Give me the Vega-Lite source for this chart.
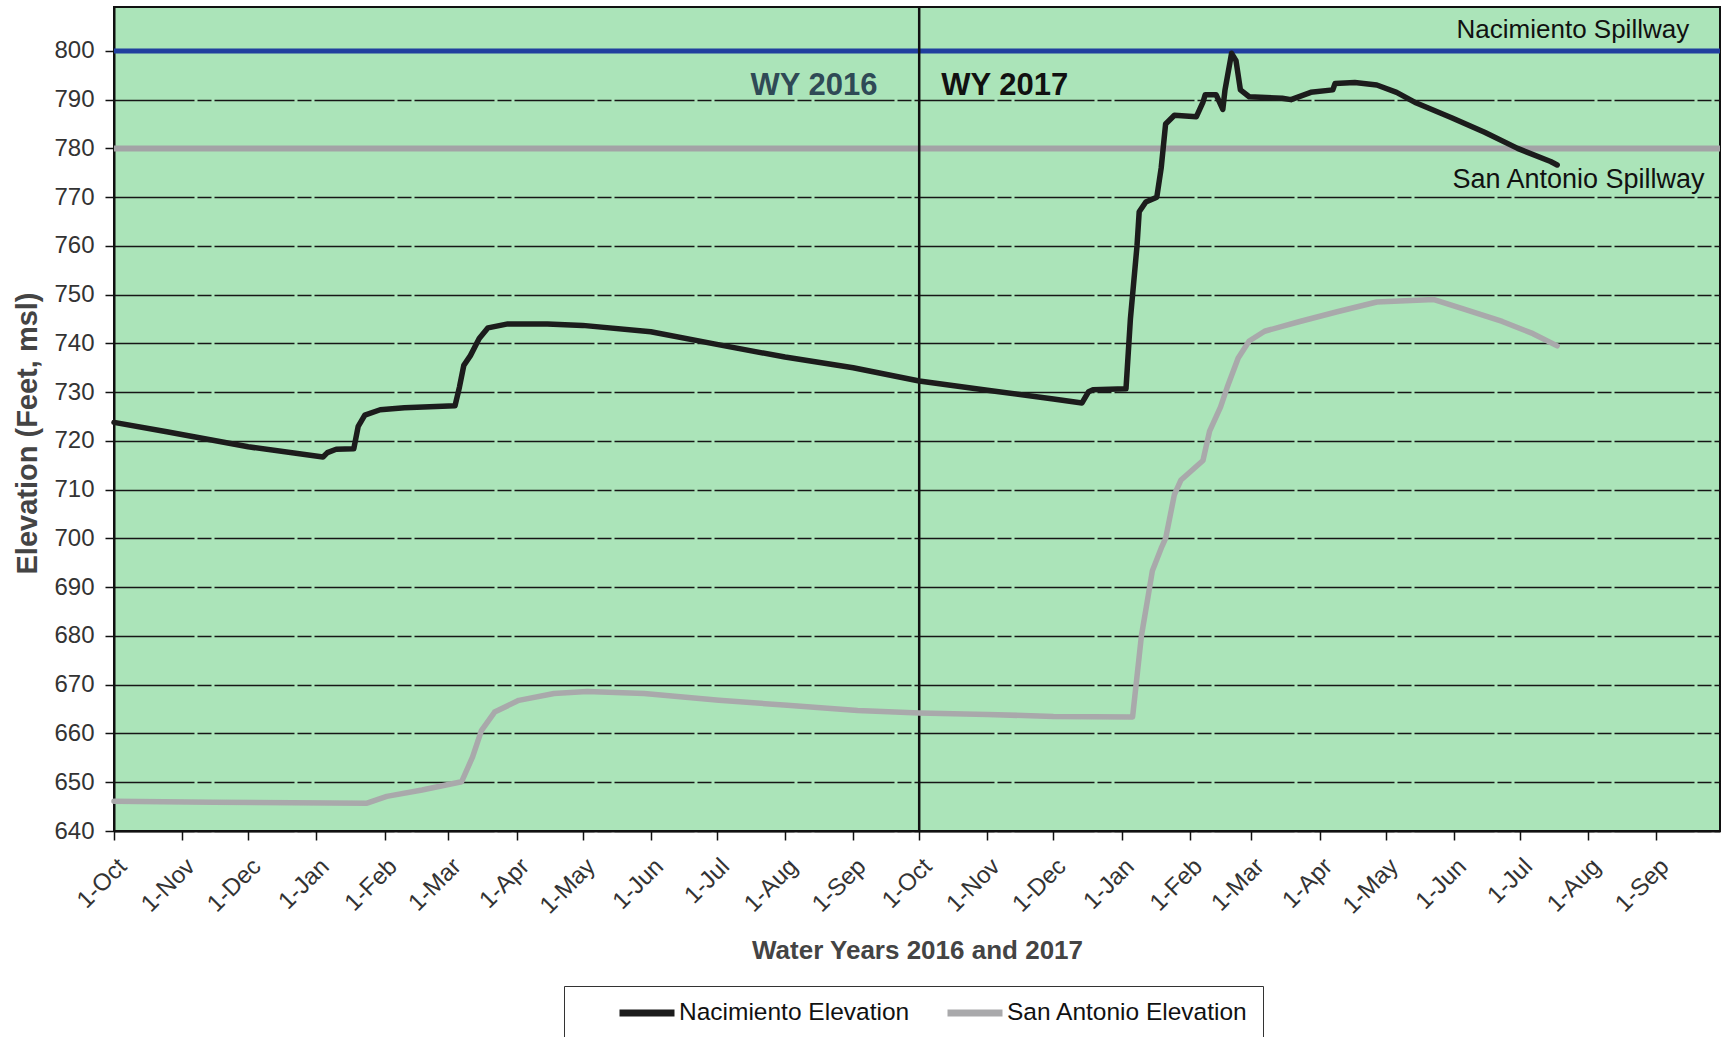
{
  "$schema": "https://vega.github.io/schema/vega-lite/v6.json",
  "width": 1606,
  "height": 824,
  "autosize": {"type": "none"},
  "padding": {"left": 114, "top": 7, "right": 2, "bottom": 206},
  "background": "white",
  "datasets": {
    "series": [
      {"date": "2015-10-01", "elev": 723.8, "series": "Nacimiento Elevation"},
      {"date": "2015-10-25", "elev": 721.9, "series": "Nacimiento Elevation"},
      {"date": "2015-12-01", "elev": 718.8, "series": "Nacimiento Elevation"},
      {"date": "2016-01-04", "elev": 716.7, "series": "Nacimiento Elevation"},
      {"date": "2016-01-06", "elev": 717.6, "series": "Nacimiento Elevation"},
      {"date": "2016-01-10", "elev": 718.3, "series": "Nacimiento Elevation"},
      {"date": "2016-01-18", "elev": 718.4, "series": "Nacimiento Elevation"},
      {"date": "2016-01-20", "elev": 723.0, "series": "Nacimiento Elevation"},
      {"date": "2016-01-23", "elev": 725.3, "series": "Nacimiento Elevation"},
      {"date": "2016-01-30", "elev": 726.4, "series": "Nacimiento Elevation"},
      {"date": "2016-02-10", "elev": 726.8, "series": "Nacimiento Elevation"},
      {"date": "2016-03-04", "elev": 727.2, "series": "Nacimiento Elevation"},
      {"date": "2016-03-06", "elev": 731.0, "series": "Nacimiento Elevation"},
      {"date": "2016-03-08", "elev": 735.5, "series": "Nacimiento Elevation"},
      {"date": "2016-03-11", "elev": 737.5, "series": "Nacimiento Elevation"},
      {"date": "2016-03-15", "elev": 741.0, "series": "Nacimiento Elevation"},
      {"date": "2016-03-19", "elev": 743.2, "series": "Nacimiento Elevation"},
      {"date": "2016-03-28", "elev": 744.0, "series": "Nacimiento Elevation"},
      {"date": "2016-04-15", "elev": 744.0, "series": "Nacimiento Elevation"},
      {"date": "2016-05-01", "elev": 743.7, "series": "Nacimiento Elevation"},
      {"date": "2016-06-01", "elev": 742.4, "series": "Nacimiento Elevation"},
      {"date": "2016-07-01", "elev": 739.8, "series": "Nacimiento Elevation"},
      {"date": "2016-08-01", "elev": 737.2, "series": "Nacimiento Elevation"},
      {"date": "2016-09-01", "elev": 735.0, "series": "Nacimiento Elevation"},
      {"date": "2016-10-01", "elev": 732.3, "series": "Nacimiento Elevation"},
      {"date": "2016-11-01", "elev": 730.4, "series": "Nacimiento Elevation"},
      {"date": "2016-12-01", "elev": 728.6, "series": "Nacimiento Elevation"},
      {"date": "2016-12-14", "elev": 727.8, "series": "Nacimiento Elevation"},
      {"date": "2016-12-17", "elev": 730.1, "series": "Nacimiento Elevation"},
      {"date": "2016-12-19", "elev": 730.5, "series": "Nacimiento Elevation"},
      {"date": "2017-01-03", "elev": 730.7, "series": "Nacimiento Elevation"},
      {"date": "2017-01-05", "elev": 745.0, "series": "Nacimiento Elevation"},
      {"date": "2017-01-08", "elev": 760.0, "series": "Nacimiento Elevation"},
      {"date": "2017-01-09", "elev": 767.0, "series": "Nacimiento Elevation"},
      {"date": "2017-01-12", "elev": 769.0, "series": "Nacimiento Elevation"},
      {"date": "2017-01-17", "elev": 770.0, "series": "Nacimiento Elevation"},
      {"date": "2017-01-19", "elev": 776.0, "series": "Nacimiento Elevation"},
      {"date": "2017-01-21", "elev": 785.0, "series": "Nacimiento Elevation"},
      {"date": "2017-01-25", "elev": 786.8, "series": "Nacimiento Elevation"},
      {"date": "2017-02-04", "elev": 786.5, "series": "Nacimiento Elevation"},
      {"date": "2017-02-07", "elev": 789.5, "series": "Nacimiento Elevation"},
      {"date": "2017-02-08", "elev": 791.0, "series": "Nacimiento Elevation"},
      {"date": "2017-02-13", "elev": 791.0, "series": "Nacimiento Elevation"},
      {"date": "2017-02-16", "elev": 788.0, "series": "Nacimiento Elevation"},
      {"date": "2017-02-17", "elev": 792.0, "series": "Nacimiento Elevation"},
      {"date": "2017-02-20", "elev": 799.5, "series": "Nacimiento Elevation"},
      {"date": "2017-02-22", "elev": 798.0, "series": "Nacimiento Elevation"},
      {"date": "2017-02-24", "elev": 792.0, "series": "Nacimiento Elevation"},
      {"date": "2017-02-28", "elev": 790.6, "series": "Nacimiento Elevation"},
      {"date": "2017-03-15", "elev": 790.3, "series": "Nacimiento Elevation"},
      {"date": "2017-03-19", "elev": 790.0, "series": "Nacimiento Elevation"},
      {"date": "2017-03-28", "elev": 791.5, "series": "Nacimiento Elevation"},
      {"date": "2017-04-07", "elev": 792.0, "series": "Nacimiento Elevation"},
      {"date": "2017-04-08", "elev": 793.3, "series": "Nacimiento Elevation"},
      {"date": "2017-04-17", "elev": 793.5, "series": "Nacimiento Elevation"},
      {"date": "2017-04-27", "elev": 793.0, "series": "Nacimiento Elevation"},
      {"date": "2017-05-06", "elev": 791.5, "series": "Nacimiento Elevation"},
      {"date": "2017-05-15", "elev": 789.3, "series": "Nacimiento Elevation"},
      {"date": "2017-05-31", "elev": 786.3, "series": "Nacimiento Elevation"},
      {"date": "2017-06-15", "elev": 783.3, "series": "Nacimiento Elevation"},
      {"date": "2017-06-30", "elev": 780.0, "series": "Nacimiento Elevation"},
      {"date": "2017-07-15", "elev": 777.3, "series": "Nacimiento Elevation"},
      {"date": "2017-07-18", "elev": 776.6, "series": "Nacimiento Elevation"},
      {"date": "2015-10-01", "elev": 646.1, "series": "San Antonio Elevation"},
      {"date": "2015-11-15", "elev": 645.9, "series": "San Antonio Elevation"},
      {"date": "2016-01-24", "elev": 645.7, "series": "San Antonio Elevation"},
      {"date": "2016-02-02", "elev": 647.1, "series": "San Antonio Elevation"},
      {"date": "2016-02-18", "elev": 648.4, "series": "San Antonio Elevation"},
      {"date": "2016-03-07", "elev": 650.1, "series": "San Antonio Elevation"},
      {"date": "2016-03-12", "elev": 655.2, "series": "San Antonio Elevation"},
      {"date": "2016-03-16", "elev": 660.6, "series": "San Antonio Elevation"},
      {"date": "2016-03-22", "elev": 664.4, "series": "San Antonio Elevation"},
      {"date": "2016-04-02", "elev": 666.8, "series": "San Antonio Elevation"},
      {"date": "2016-04-18", "elev": 668.2, "series": "San Antonio Elevation"},
      {"date": "2016-05-03", "elev": 668.6, "series": "San Antonio Elevation"},
      {"date": "2016-05-29", "elev": 668.2, "series": "San Antonio Elevation"},
      {"date": "2016-07-02", "elev": 666.8, "series": "San Antonio Elevation"},
      {"date": "2016-08-02", "elev": 665.8, "series": "San Antonio Elevation"},
      {"date": "2016-09-03", "elev": 664.7, "series": "San Antonio Elevation"},
      {"date": "2016-10-01", "elev": 664.2, "series": "San Antonio Elevation"},
      {"date": "2016-11-01", "elev": 663.9, "series": "San Antonio Elevation"},
      {"date": "2016-12-01", "elev": 663.5, "series": "San Antonio Elevation"},
      {"date": "2017-01-06", "elev": 663.4, "series": "San Antonio Elevation"},
      {"date": "2017-01-10", "elev": 680.0, "series": "San Antonio Elevation"},
      {"date": "2017-01-13", "elev": 688.0, "series": "San Antonio Elevation"},
      {"date": "2017-01-15", "elev": 693.4, "series": "San Antonio Elevation"},
      {"date": "2017-01-19", "elev": 698.0, "series": "San Antonio Elevation"},
      {"date": "2017-01-21", "elev": 700.0, "series": "San Antonio Elevation"},
      {"date": "2017-01-25", "elev": 709.0, "series": "San Antonio Elevation"},
      {"date": "2017-01-28", "elev": 712.0, "series": "San Antonio Elevation"},
      {"date": "2017-02-07", "elev": 716.0, "series": "San Antonio Elevation"},
      {"date": "2017-02-10", "elev": 722.0, "series": "San Antonio Elevation"},
      {"date": "2017-02-15", "elev": 727.0, "series": "San Antonio Elevation"},
      {"date": "2017-02-18", "elev": 731.0, "series": "San Antonio Elevation"},
      {"date": "2017-02-23", "elev": 737.0, "series": "San Antonio Elevation"},
      {"date": "2017-02-28", "elev": 740.5, "series": "San Antonio Elevation"},
      {"date": "2017-03-07", "elev": 742.5, "series": "San Antonio Elevation"},
      {"date": "2017-03-23", "elev": 744.5, "series": "San Antonio Elevation"},
      {"date": "2017-04-09", "elev": 746.5, "series": "San Antonio Elevation"},
      {"date": "2017-04-27", "elev": 748.5, "series": "San Antonio Elevation"},
      {"date": "2017-05-23", "elev": 749.0, "series": "San Antonio Elevation"},
      {"date": "2017-06-06", "elev": 747.0, "series": "San Antonio Elevation"},
      {"date": "2017-06-23", "elev": 744.5, "series": "San Antonio Elevation"},
      {"date": "2017-07-07", "elev": 742.0, "series": "San Antonio Elevation"},
      {"date": "2017-07-18", "elev": 739.5, "series": "San Antonio Elevation"}
    ]
  },
  "layer": [
    {
      "data": {"values": [{"elev": 780}]},
      "mark": {"type": "rule", "color": "#a3a3a6", "strokeWidth": 6},
      "encoding": {
        "y": {"field": "elev", "type": "quantitative", "scale": {"domain": [640, 809], "nice": false, "zero": false}, "title": "Elevation (Feet, msl)", "axis": {"values": [640, 650, 660, 670, 680, 690, 700, 710, 720, 730, 740, 750, 760, 770, 780, 790, 800], "titleY": 426}}
      }
    },
    {
      "data": {"values": [{"elev": 800}]},
      "mark": {"type": "rule", "color": "#213f9e", "strokeWidth": 5},
      "encoding": {
        "y": {"field": "elev", "type": "quantitative", "scale": {"domain": [640, 809], "nice": false, "zero": false}, "title": "Elevation (Feet, msl)", "axis": {"values": [640, 650, 660, 670, 680, 690, 700, 710, 720, 730, 740, 750, 760, 770, 780, 790, 800], "titleY": 426}}
      }
    },
    {
      "data": {"values": [{"date": "2016-10-01"}]},
      "mark": {"type": "rule", "color": "#111111", "strokeWidth": 2.5},
      "encoding": {
        "x": {"field": "date", "type": "temporal", "scale": {"type": "utc", "domain": [{"year": 2015, "month": 10, "date": 1, "utc": true}, {"year": 2017, "month": 9, "date": 30, "utc": true}]}, "title": "Water Years 2016 and 2017", "axis": {"format": "%-d-%b", "tickCount": {"interval": "month", "step": 1}}}
      }
    },
    {
      "data": {"name": "series"},
      "mark": {"type": "line", "strokeWidth": 5.5, "strokeJoin": "round", "strokeCap": "round"},
      "encoding": {
        "x": {"field": "date", "type": "temporal", "scale": {"type": "utc", "domain": [{"year": 2015, "month": 10, "date": 1, "utc": true}, {"year": 2017, "month": 9, "date": 30, "utc": true}]}, "title": "Water Years 2016 and 2017", "axis": {"format": "%-d-%b", "tickCount": {"interval": "month", "step": 1}}},
        "y": {"field": "elev", "type": "quantitative", "scale": {"domain": [640, 809], "nice": false, "zero": false}, "title": "Elevation (Feet, msl)", "axis": {"values": [640, 650, 660, 670, 680, 690, 700, 710, 720, 730, 740, 750, 760, 770, 780, 790, 800], "titleY": 426}},
        "color": {
          "field": "series",
          "type": "nominal",
          "scale": {"domain": ["Nacimiento Elevation", "San Antonio Elevation"], "range": ["#1c1c1c", "#a9a9ab"]},
          "legend": {
            "orient": "none",
            "legendX": 450,
            "legendY": 979,
            "direction": "horizontal",
            "title": " ",
            "titleOrient": "left",
            "titlePadding": 38,
            "titleFontSize": 10,
            "symbolType": "stroke",
            "symbolStrokeWidth": 7,
            "symbolSize": 3025,
            "clipHeight": 26,
            "labelFontSize": 24.5,
            "labelFont": "Liberation Sans",
            "labelColor": "#111111",
            "labelOffset": 1,
            "labelLimit": 500,
            "strokeColor": "#333333",
            "fillColor": "white",
            "padding": 14,
            "columnPadding": 34
          }
        },
        "detail": {"field": "series"}
      }
    },
    {
      "data": {"values": [{"date": "2017-09-16", "elev": 802.6, "label": "Nacimiento Spillway"}]},
      "mark": {"type": "text", "align": "right", "baseline": "alphabetic", "font": "Liberation Sans", "fontSize": 26, "color": "#111111"},
      "encoding": {
        "x": {"field": "date", "type": "temporal"},
        "y": {"field": "elev", "type": "quantitative"},
        "text": {"field": "label"}
      }
    },
    {
      "data": {"values": [{"date": "2017-09-23", "elev": 771.8, "label": "San Antonio Spillway"}]},
      "mark": {"type": "text", "align": "right", "baseline": "alphabetic", "font": "Liberation Sans", "fontSize": 27, "color": "#111111"},
      "encoding": {
        "x": {"field": "date", "type": "temporal"},
        "y": {"field": "elev", "type": "quantitative"},
        "text": {"field": "label"}
      }
    },
    {
      "data": {"values": [{"date": "2016-09-12", "elev": 790.9, "label": "WY 2016"}]},
      "mark": {"type": "text", "align": "right", "baseline": "alphabetic", "font": "Liberation Sans", "fontWeight": "bold", "fontSize": 31, "color": "#2f4a56"},
      "encoding": {
        "x": {"field": "date", "type": "temporal"},
        "y": {"field": "elev", "type": "quantitative"},
        "text": {"field": "label"}
      }
    },
    {
      "data": {"values": [{"date": "2016-10-11", "elev": 790.9, "label": "WY 2017"}]},
      "mark": {"type": "text", "align": "left", "baseline": "alphabetic", "font": "Liberation Sans", "fontWeight": "bold", "fontSize": 31, "color": "#111111"},
      "encoding": {
        "x": {"field": "date", "type": "temporal"},
        "y": {"field": "elev", "type": "quantitative"},
        "text": {"field": "label"}
      }
    }
  ],
  "config": {
    "view": {"fill": "#abe4b9", "stroke": "#111111", "strokeWidth": 2},
    "axis": {
      "labelFont": "Liberation Sans",
      "labelColor": "#333333",
      "titleFont": "Liberation Sans",
      "titleFontWeight": "bold",
      "titleColor": "#444444",
      "domainColor": "#111111",
      "domainWidth": 2,
      "tickColor": "#111111",
      "tickWidth": 1.5,
      "tickSize": 9
    },
    "axisY": {
      "grid": true,
      "gridColor": "#161616",
      "gridWidth": 1.6,
      "gridOpacity": 1,
      "gridDash": [80, 3, 14, 3],
      "labelFontSize": 24,
      "labelPadding": 11,
      "titlePadding": 11,
      "titleFontSize": 29
    },
    "axisX": {
      "grid": false,
      "labelAngle": -45,
      "labelFontSize": 24,
      "labelPadding": 14,
      "titlePadding": 19,
      "titleFontSize": 26
    }
  }
}
